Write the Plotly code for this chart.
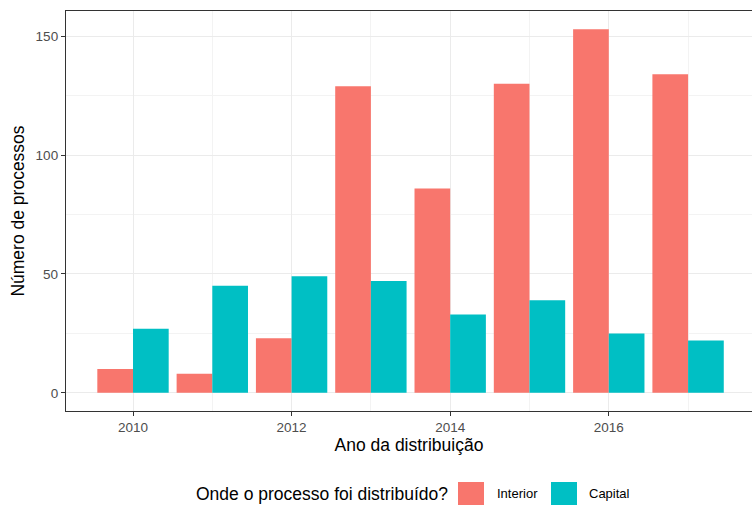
import plotly.graph_objects as go

years = [2010, 2011, 2012, 2013, 2014, 2015, 2016, 2017]
interior = [10, 8, 23, 129, 86, 130, 153, 134]
capital = [27, 45, 49, 47, 33, 39, 25, 22]
series_names = ["Interior", "Capital"]
series_colors = ["#F8766D", "#00BFC4"]
legend_title = "Onde o processo foi distribuído?"

FONT = "Liberation Sans, Arial, sans-serif"

fig = go.Figure()
for name, vals, col in zip(series_names, [interior, capital], series_colors):
    fig.add_trace(go.Bar(x=years, y=vals, name=name, showlegend=False,
                         marker=dict(color=col, line=dict(width=0))))

# ggplot-style legend below the panel (keys + labels)
key_x = [(0.5714, 0.6093), (0.7070, 0.7449)]
label_x = [0.6254, 0.7595]
for (x0, x1), lx, name, col in zip(key_x, label_x, series_names, series_colors):
    fig.add_shape(type="rect", xref="paper", yref="paper", x0=x0, x1=x1, y0=-0.2425, y1=-0.1775,
                  fillcolor=col, line=dict(width=0), layer="above")
    fig.add_annotation(xref="paper", yref="paper", x=lx, y=-0.207, xanchor="left", yanchor="middle",
                       text=name, showarrow=False, font=dict(size=13, color="black", family=FONT))
fig.add_annotation(xref="paper", yref="paper", x=0.5598, y=-0.207, xanchor="right", yanchor="middle",
                   text=legend_title, showarrow=False, font=dict(size=17.5, color="black", family=FONT))

fig.update_layout(
    width=752, height=505,
    margin=dict(l=66, r=0, t=11, b=94),
    paper_bgcolor="white", plot_bgcolor="white",
    barmode="group", bargap=0.1, bargroupgap=0,
    font=dict(family=FONT, color="black"),
    showlegend=False,
    xaxis=dict(
        range=[2009.155, 2017.806], tick0=2010, dtick=2,
        showgrid=True, gridcolor="#EBEBEB", gridwidth=1,
        minor=dict(dtick=1, tick0=2010, showgrid=True, gridcolor="#F3F3F3", gridwidth=0.6, ticklen=0),
        showline=True, linecolor="#333333", linewidth=1.3, mirror=True,
        ticks="outside", ticklen=4, tickcolor="#333333", tickwidth=1,
        tickfont=dict(size=13.5, color="#4D4D4D"),
        title=dict(text="Ano da distribuição", font=dict(size=17.5, color="black"), standoff=2),
        zeroline=False, automargin=False,
    ),
    yaxis=dict(
        range=[-7.65, 160.65], tickvals=[0, 50, 100, 150],
        showgrid=True, gridcolor="#EBEBEB", gridwidth=1,
        minor=dict(tickvals=[25, 75, 125], showgrid=True, gridcolor="#F3F3F3", gridwidth=0.6, ticklen=0),
        showline=True, linecolor="#333333", linewidth=1.3, mirror=False,
        ticks="outside", ticklen=4, tickcolor="#333333", tickwidth=1,
        tickfont=dict(size=13.5, color="#4D4D4D"),
        title=dict(text="Número de processos", font=dict(size=17.5, color="black"), standoff=6),
        zeroline=False, automargin=False,
    ),
)

fig.write_html("out.html", config={"displayModeBar": False},
               post_script="document.body.style.margin='0';document.body.style.overflow='hidden';")
